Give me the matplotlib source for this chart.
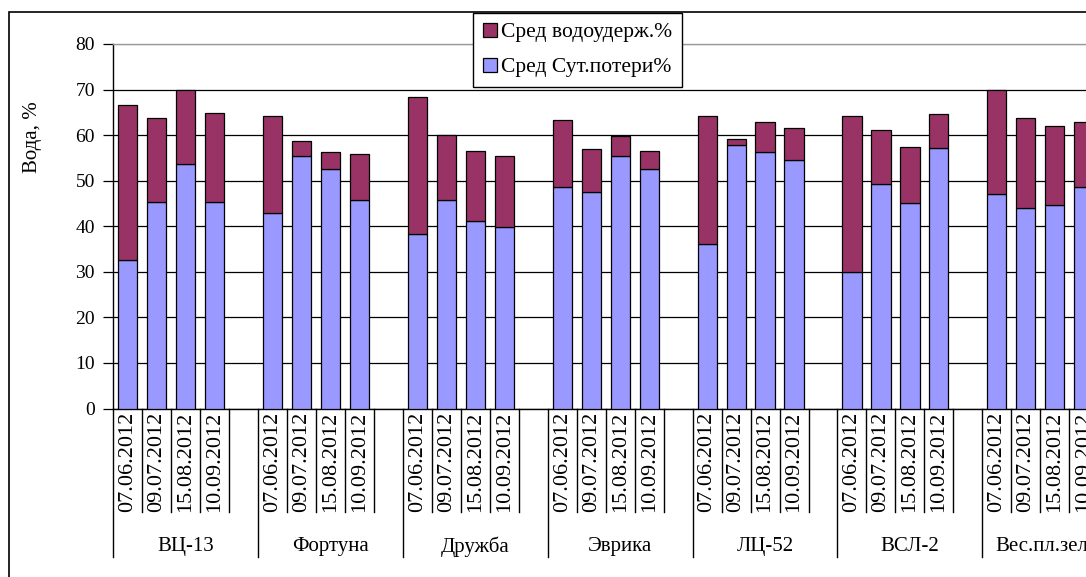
import numpy as np
import matplotlib
matplotlib.use('Agg')
from matplotlib import pyplot as plt
from matplotlib.patches import Rectangle

# данные
groups = ['ВЦ-13', 'Фортуна', 'Дружба', 'Эврика', 'ЛЦ-52', 'ВСЛ-2', 'Вес.пл.зелен.']
dates = ['07.06.2012', '09.07.2012', '15.08.2012', '10.09.2012']

# Сред Сут.потери% (нижняя часть)
poteri = [[32.5, 45.4, 53.7, 45.4],
          [42.9, 55.4, 52.5, 45.8],
          [38.3, 45.8, 41.2, 39.9],
          [48.7, 47.6, 55.5, 52.5],
          [36.1, 57.9, 56.3, 54.5],
          [29.9, 49.2, 45.0, 57.1],
          [47.1, 44.1, 44.6, 48.7]]

# Сред водоудерж.% (верхняя часть)
vodouderzh = [[34.2, 18.4, 16.3, 19.5],
              [21.3, 3.4, 3.8, 10.0],
              [30.0, 14.2, 15.4, 15.6],
              [14.6, 9.4, 4.3, 4.1],
              [28.0, 1.2, 6.6, 7.1],
              [34.3, 12.0, 12.5, 7.5],
              [22.9, 19.7, 17.4, 14.2]]

W, H = 1086, 577
plt.rcParams['font.family'] = ['Liberation Serif', 'DejaVu Serif']

fig = plt.figure(figsize=(W / 100, H / 100), dpi=100)
fig.patch.set_facecolor('white')

slots = len(groups) * 5
pitch = 28.98
left, top, bottom = 113, 44, 408.5
ax = fig.add_axes([left / W, 1 - bottom / H, slots * pitch / W, (bottom - top) / H])

x = []
for g in range(len(groups)):
    for d in range(len(dates)):
        x.append(g * 5 + d + 0.5)
x = np.array(x)
low = np.array(poteri).ravel()
up = np.array(vodouderzh).ravel()

ax.bar(x, low, width=0.66, color='#9999FF', edgecolor='black', linewidth=0.9,
       label='Сред Сут.потери%', zorder=3)
ax.bar(x, up, bottom=low, width=0.66, color='#993366', edgecolor='black', linewidth=0.9,
       label='Сред водоудерж.%', zorder=3)

ax.set_xlim(0, slots)
ax.set_ylim(0, 80)
ax.set_yticks(range(0, 81, 10))
ax.yaxis.grid(True, color='black', linewidth=0.9)
ax.get_ygridlines()[-1].set_color('#999999')
ax.set_axisbelow(True)
ax.tick_params(axis='y', length=7, width=0.9, pad=6, labelsize=14)
ax.set_xticks([])
for s in ['right', 'bottom', 'left']:
    ax.spines[s].set_color('black')
    ax.spines[s].set_linewidth(1.0)
ax.spines['top'].set_color('#999999')
ax.spines['top'].set_linewidth(1.0)

# подписи категорий (даты и сорта)
h = bottom - top
tr = ax.get_xaxis_transform()
for g, name in enumerate(groups):
    base = g * 5
    ax.plot([base, base], [0, -(556.7 - bottom) / h], transform=tr,
            color='black', lw=1.0, clip_on=False)
    for d, lab in enumerate(dates):
        ax.plot([base + d + 1, base + d + 1], [0, -(511.7 - bottom) / h], transform=tr,
                color='black', lw=1.0, clip_on=False)
        ax.text(base + d + 0.5, -(412 - bottom) / h, lab, transform=tr, rotation=90,
                ha='center', va='top', fontsize=16)
    ax.text(base + 2.5, -(546.7 - bottom) / h, name, transform=tr,
            ha='center', va='center', fontsize=15)

fig.text(32 / W, 1 - 137 / H, 'Вода, %', rotation=90, ha='center', va='center', fontsize=15)

# рамка области диаграммы
fig.add_artist(Rectangle((9 / W, -0.5), 1.5, 1.5 - 12 / H, transform=fig.transFigure,
                         fill=False, edgecolor='black', linewidth=1.2))

handles, labels = ax.get_legend_handles_labels()
leg = fig.legend(handles[::-1], labels[::-1], loc='upper left',
                 bbox_to_anchor=(473 / W, 1 - 13 / H), borderaxespad=0,
                 fancybox=False, framealpha=1, edgecolor='black', fontsize=15.5,
                 handlelength=0.65, handleheight=0.65, handletextpad=0.2,
                 labelspacing=0.7, borderpad=0.45)
leg.get_frame().set_linewidth(1.0)
leg.set_zorder(10)

fig.savefig('out.png', dpi=100)
